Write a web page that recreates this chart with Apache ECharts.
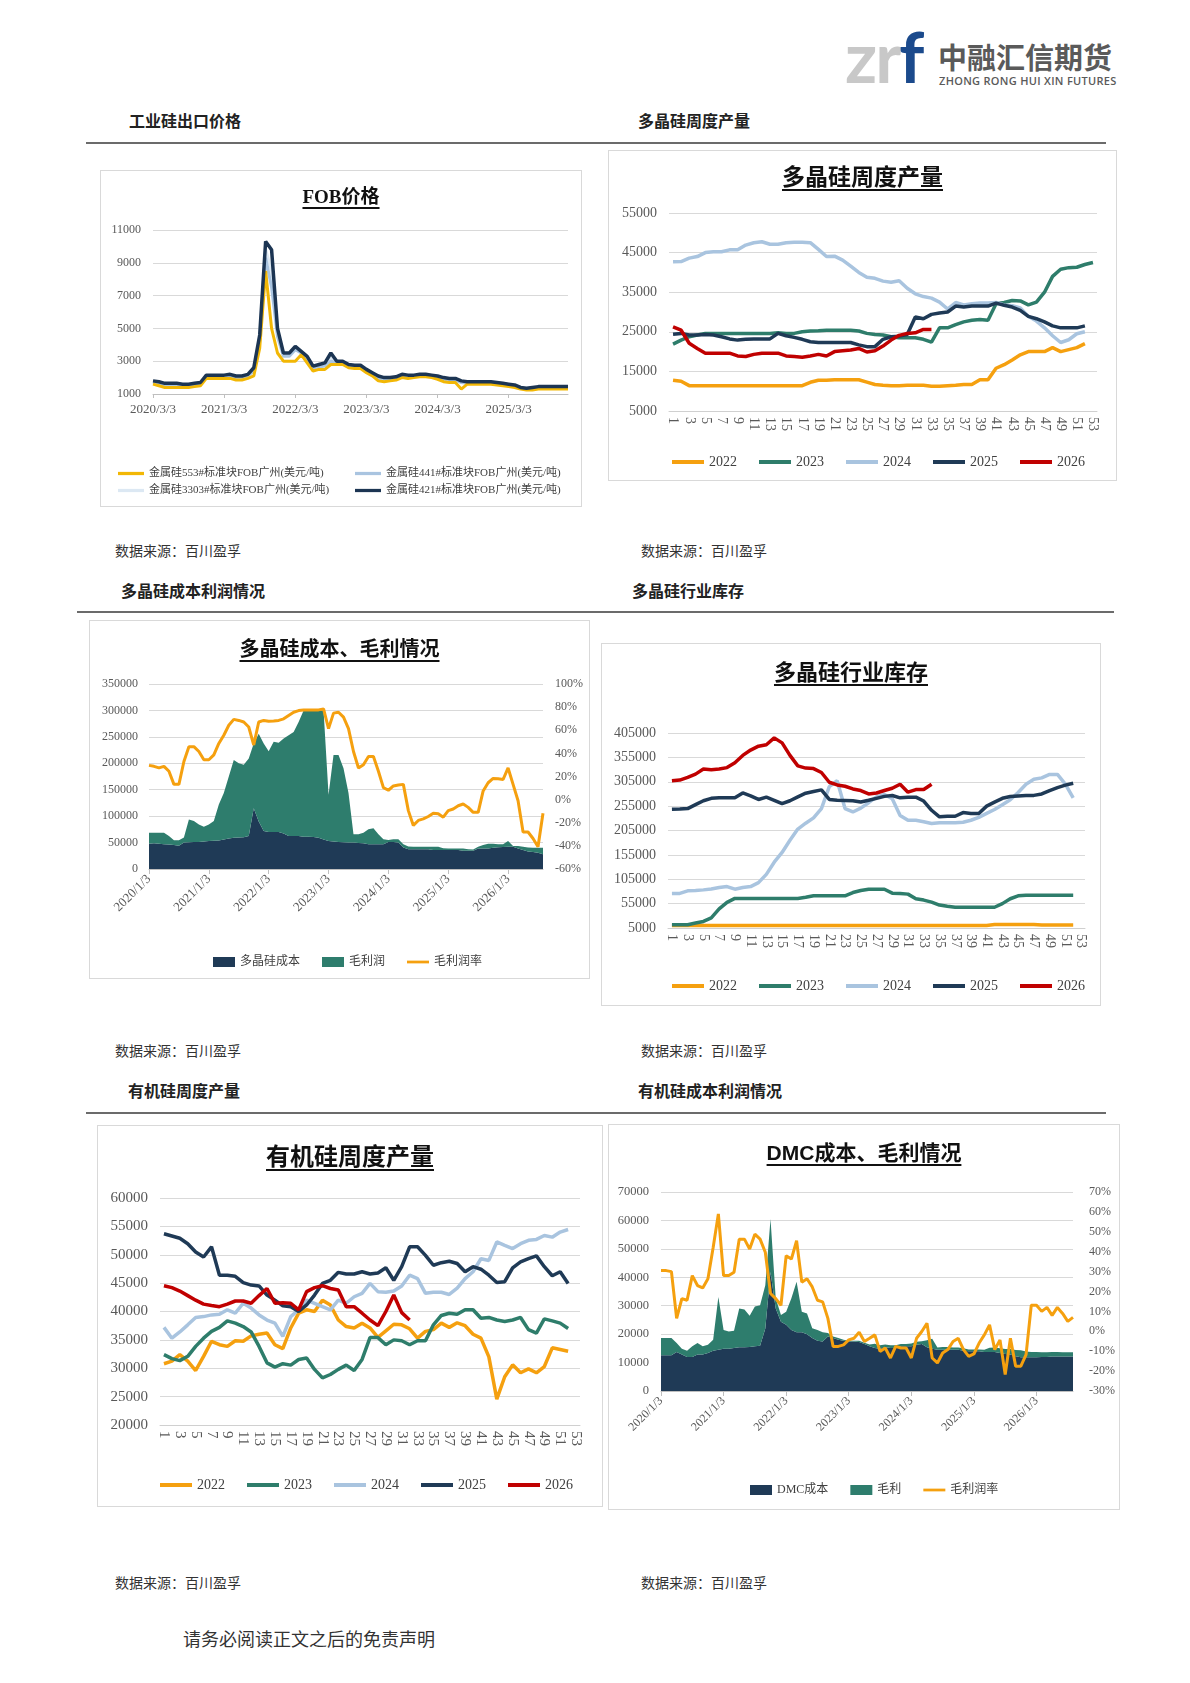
<!DOCTYPE html>
<html>
<head>
<meta charset="utf-8">
<script src="https://cdn.jsdelivr.net/npm/echarts@6/dist/echarts.min.js"></script>
<style>
body{margin:0;background:#fff;width:1190px;height:1683px;position:relative;overflow:hidden;font-family:"Noto Sans CJK SC",sans-serif}
.h{position:absolute;font-size:16px;font-weight:700;color:#222;line-height:20px;white-space:nowrap}
.src{position:absolute;font-size:14px;color:#333;line-height:18px;white-space:nowrap}
.rule{position:absolute;height:2px;background:#6b6b6b}
.box{position:absolute;border:1px solid #d9d9d9;box-sizing:border-box;background:#fff}
.box .c{position:absolute;left:0;top:0;right:0;bottom:0}
.ttl{position:absolute;left:0;right:0;text-align:center;font-weight:700;color:#111;text-decoration:underline;text-underline-offset:4px;text-decoration-thickness:1.5px;z-index:5;white-space:nowrap;font-family:"Liberation Serif","Noto Sans CJK SC",serif}
</style>
</head>
<body>
<!-- logo -->
<div style="position:absolute;left:845px;top:21px;font:700 70px Lato;line-height:70px;letter-spacing:-2px"><span style="color:#c8c8c8">zr</span><span style="color:#1b4a8c">f</span></div>
<div style="position:absolute;left:938px;top:39px;font:700 29px 'Noto Sans CJK SC';line-height:34px;color:#5a5a5a">中融汇信期货</div>
<div style="position:absolute;left:939px;top:75px;font:600 11px 'Open Sans';line-height:12px;letter-spacing:0.3px;color:#5a5a5a">ZHONG RONG HUI XIN FUTURES</div>

<div class="h" style="left:129px;top:110px">工业硅出口价格</div>
<div class="h" style="left:638px;top:110px">多晶硅周度产量</div>
<div class="rule" style="left:86px;top:142px;width:1020px"></div>

<div class="box" style="left:100px;top:170px;width:482px;height:337px">
  <div class="ttl" style="top:14px;font-size:19px;line-height:23px">FOB价格</div>
  <div class="c" id="c1"></div>
</div>
<div class="box" style="left:608px;top:150px;width:509px;height:331px">
  <div class="ttl" style="top:13px;font-size:23px;line-height:28px">多晶硅周度产量</div>
  <div class="c" id="c2"></div>
</div>

<div class="src" style="left:115px;top:541px">数据来源：百川盈孚</div>
<div class="src" style="left:641px;top:541px">数据来源：百川盈孚</div>

<div class="h" style="left:121px;top:580px">多晶硅成本利润情况</div>
<div class="h" style="left:632px;top:580px">多晶硅行业库存</div>
<div class="rule" style="left:77px;top:611px;width:1037px"></div>

<div class="box" style="left:89px;top:620px;width:501px;height:359px">
  <div class="ttl" style="top:16px;font-size:20px;line-height:24px">多晶硅成本、毛利情况</div>
  <div class="c" id="c3"></div>
</div>
<div class="box" style="left:601px;top:643px;width:500px;height:363px">
  <div class="ttl" style="top:16px;font-size:22px;line-height:26px">多晶硅行业库存</div>
  <div class="c" id="c4"></div>
</div>

<div class="src" style="left:115px;top:1041px">数据来源：百川盈孚</div>
<div class="src" style="left:641px;top:1041px">数据来源：百川盈孚</div>

<div class="h" style="left:128px;top:1080px">有机硅周度产量</div>
<div class="h" style="left:638px;top:1080px">有机硅成本利润情况</div>
<div class="rule" style="left:86px;top:1112px;width:1020px"></div>

<div class="box" style="left:97px;top:1125px;width:506px;height:382px">
  <div class="ttl" style="top:17px;font-size:24px;line-height:29px">有机硅周度产量</div>
  <div class="c" id="c5"></div>
</div>
<div class="box" style="left:608px;top:1124px;width:512px;height:386px">
  <div class="ttl" style="top:15px;font-size:21px;line-height:25px;font-family:'Liberation Sans','Noto Sans CJK SC',sans-serif">DMC成本、毛利情况</div>
  <div class="c" id="c6"></div>
</div>

<div class="src" style="left:115px;top:1573px">数据来源：百川盈孚</div>
<div class="src" style="left:641px;top:1573px">数据来源：百川盈孚</div>

<div style="position:absolute;left:183px;top:1626px;font-size:18px;line-height:24px;color:#333">请务必阅读正文之后的免责声明</div>

<script>
// ---------- data ----------
// FOB prices, monthly from 2020/3/3
const fob553 = [1600,1500,1400,1400,1400,1400,1400,1450,1500,1950,1950,1950,1950,1950,1850,1850,1950,2100,3800,8500,5000,3500,3000,3000,3000,3400,2900,2400,2500,2500,2800,2800,2800,2600,2550,2550,2300,2100,1800,1750,1800,1850,2000,1950,2000,2050,2050,2000,1900,1750,1700,1700,1300,1600,1600,1600,1600,1600,1550,1500,1450,1400,1300,1250,1250,1300,1300,1300,1300,1300,1300];
const fob441 = [1700,1650,1550,1550,1550,1500,1500,1550,1600,2050,2050,2050,2050,2100,2000,2000,2100,2400,4300,9300,7500,4500,3300,3300,3700,3500,3100,2600,2650,2700,3000,2900,2900,2700,2650,2650,2400,2200,1950,1900,1900,1950,2100,2050,2050,2100,2100,2050,2000,1900,1850,1850,1700,1650,1650,1650,1650,1650,1600,1550,1500,1450,1350,1300,1350,1400,1400,1400,1400,1400,1400];
const fob3303 = [1750,1700,1600,1600,1600,1550,1550,1600,1650,2100,2100,2100,2100,2150,2050,2050,2150,2500,4500,9800,8500,4800,3400,3400,3800,3550,3200,2650,2750,2800,3200,2950,2950,2750,2700,2700,2450,2250,2050,1950,1950,2000,2150,2100,2100,2150,2150,2100,2050,1950,1900,1900,1750,1700,1700,1700,1700,1700,1650,1600,1550,1500,1350,1300,1350,1400,1400,1400,1400,1400,1400];
const fob421 = [1800,1750,1650,1650,1650,1600,1600,1650,1700,2150,2150,2150,2150,2200,2100,2100,2200,2600,4600,10300,9800,5000,3500,3500,3900,3600,3300,2700,2800,2900,3500,3000,3000,2800,2750,2750,2500,2300,2100,2000,2000,2050,2200,2150,2150,2200,2200,2150,2100,2000,1950,1950,1800,1750,1750,1750,1750,1750,1700,1650,1600,1550,1400,1350,1400,1450,1450,1450,1450,1450,1450];

// polysilicon weekly output
const p2022 = [12750,12500,11400,11400,11400,11400,11400,11400,11400,11400,11400,11400,11400,11400,11400,11400,11400,12250,12750,12750,12900,12900,12900,12900,12300,11700,11500,11400,11400,11500,11500,11500,11250,11250,11400,11500,11700,11700,12900,12900,15800,16700,17900,19200,20000,20000,20000,21000,20000,20500,21000,22000];
const p2023 = [21900,22900,23750,24200,24600,24600,24600,24600,24600,24600,24600,24600,24600,24750,24600,24600,25000,25200,25250,25400,25400,25400,25400,25200,24600,24300,24200,23750,23500,23500,23500,23100,22400,26000,26000,26800,27500,27900,28100,27900,32100,32400,32900,32800,31800,32500,35000,39000,40800,41200,41300,42000,42500];
const p2024 = [42700,42750,43600,44000,45000,45200,45200,45700,45700,46900,47500,47750,47100,47100,47500,47600,47600,47500,45800,44000,44100,43100,41600,40000,38800,38500,37800,37500,37900,36000,34600,33900,33500,32500,30750,32400,31800,32100,32250,32250,32400,31800,31600,31000,28900,27700,26000,24000,22300,23000,24500,25000];
const p2025 = [24400,24600,24200,24200,24300,24200,23750,23200,22900,23100,23200,23200,23200,24600,24000,23600,23100,22500,22300,22300,22300,22300,22300,21700,21250,21250,23100,23750,23900,24300,28750,28300,29400,29750,30000,31500,31250,31500,31500,31500,32250,31700,31250,30400,28900,28300,27500,26500,26000,26000,26000,26500];
const p2026 = [26250,25400,22100,20800,19600,19600,19600,19600,18900,18750,19300,19600,19600,19600,18900,18750,18600,18900,19300,18900,20000,20200,20400,20800,19900,20200,21400,22900,24100,24600,24750,25600,25600];

// polysilicon cost / gross profit / margin, monthly from 2020/1/3
const polyCost = [48000,48500,48000,47000,46500,45600,44000,50000,50500,51000,51000,52000,53000,53500,54000,56000,57500,59000,59500,60000,62500,115000,90000,72000,70000,70000,70000,67000,62500,62500,62500,61000,61000,60600,59000,56000,53000,52000,51000,50500,50000,50000,49000,48500,47000,47000,47000,47000,51000,51000,50000,40600,37500,37500,37500,37500,37500,36000,36000,36000,36000,36000,36000,34400,34400,34400,39000,39000,39000,40000,41000,41500,42000,42000,39000,36000,33000,32000,30600,28000];
const polyProfit = [20750,20250,20750,21750,16000,8800,10400,9400,43250,39600,33400,28000,31400,37100,68000,87750,117500,147000,140500,137000,146500,122500,166000,165500,153000,170600,169000,180000,190500,196500,215500,239000,239000,239400,241000,244000,87600,163600,164600,140100,93750,15600,16600,20250,28000,30000,18600,9250,4000,5250,6250,6400,5000,4500,4500,4500,4500,6000,6000,3400,2750,2750,2750,4350,3100,2600,3000,6600,9000,8000,6000,5500,11000,1750,4750,6000,7600,8000,9400,12000];
const polyMargin = [29.6,28.8,27.4,28.8,24.5,13.2,13.2,33,45.8,45.8,41.6,34.5,34.5,38.7,48.6,55.7,64.3,69.4,68.5,67.1,62.8,47.2,67.1,68.5,67.7,68,68.5,69.9,72.8,75.6,77,77.6,77.6,77.6,77.6,78.4,61.4,74.8,75.6,71.3,61.4,41.6,27.4,30.2,37.3,37.3,24.5,10.4,8.1,11.8,12.6,13.2,-9.5,-22.3,-18,-16.6,-14.6,-11.8,-12.3,-15.2,-9.5,-8.1,-5.3,-3.8,-6.7,-11,-11,7.5,14.6,18.3,18,17.4,27.4,13.2,-1,-28,-28,-33.6,-40.7,-11.8];

// polysilicon inventory, weekly
const i2022 = [10000,10000,10000,10000,10000,10000,10000,10000,10000,10000,10000,10000,10000,10000,10000,10000,10000,10000,10000,10000,10000,10000,10000,10000,10000,10000,10000,10000,10000,10000,10000,10000,10000,10000,10000,10000,10000,10000,10000,10000,10000,12000,12000,12000,12000,12000,12000,11000,11000,11000,11000,11000];
const i2023 = [11700,11700,11700,15100,18500,25900,44100,57600,65700,65700,65700,65700,65700,65700,65700,65700,65700,68000,71100,71100,71100,71100,71100,77800,82000,84600,84600,84600,76500,76000,74500,65000,62300,58000,52000,49500,47500,47500,47500,47500,47500,47500,55000,65000,71000,72400,72400,72400,72400,72400,72400,72400];
const i2024 = [75800,76000,81200,82000,83200,85000,88000,90000,84600,88000,90000,98000,115000,140000,160000,185000,208000,220000,231000,250000,295000,307000,250000,243000,251000,262000,274000,279000,270000,236000,226000,226000,223000,219500,221000,221000,221000,222000,226000,232000,240000,248000,258000,268000,283000,300000,310000,313000,320000,320000,300000,272000];
const i2025 = [248500,249000,250000,258000,266000,271000,272000,272000,272000,282000,276000,268700,273400,267000,260000,266000,274000,281500,285000,288300,268700,267000,266700,266000,263300,267000,271000,275000,276800,272000,273000,273400,265400,246500,233000,234000,234300,241700,240000,239700,255000,263300,271000,274800,276000,277000,277000,280000,287000,293000,298000,302000];
const i2026 = [307000,308500,314000,320600,331000,329500,331000,334000,344000,359000,370000,378000,381000,395000,384700,359000,337500,333000,332000,324000,304000,298400,295700,290300,287000,280000,282000,287000,291700,300000,283600,289000,289000,300000];

// organic silicon weekly output
const o2022 = [30800,31250,32400,31250,29600,32100,34750,34150,33850,34850,34750,35700,36000,36200,34150,33450,37100,39700,40300,40000,42000,41150,38500,37350,37100,37950,37100,35450,36600,37750,37650,36950,35300,36500,36800,37950,37200,38000,37500,36000,35300,32000,24550,28500,30600,29200,29900,29200,30300,33600,33300,33000];
const o2023 = [32400,31700,31350,32100,33850,35300,36500,37200,38350,37950,37350,36400,33850,30950,30200,30800,30550,31550,31800,29800,28300,28900,29800,30550,29600,31550,35400,35400,34150,35000,34850,34150,34850,34850,37650,39300,39700,39500,40300,40300,38800,38950,38500,38250,38500,38950,36800,36200,38700,38350,37950,37000];
const o2024 = [37200,35300,36400,37650,38950,39100,39400,39500,40300,39700,41450,40600,39400,38500,37950,35600,39100,40300,42000,41450,40850,40300,42000,41450,42600,43200,44950,43500,43400,43600,44500,46400,45800,43200,43400,43400,43000,44100,45800,47000,49300,49000,52250,51650,51100,51950,52550,52700,53400,53100,54000,54450];
const o2025 = [53700,53300,52900,51950,50500,49600,51400,46400,46400,46200,45100,44650,44500,42900,42000,41000,40850,40000,41150,42900,44950,45500,46900,46600,46600,47000,46600,46800,47700,45500,47900,51400,51400,49900,48150,48600,48850,48450,47000,47900,47450,46400,45100,45250,47700,48750,49300,49800,47900,46300,47000,44950];
const o2026 = [44550,44200,43600,42800,42000,41300,41050,40850,41300,41850,41850,41450,42800,44050,41450,41550,41450,40300,43500,44200,44550,44050,43800,40850,40850,39700,38500,37500,40000,42900,39800,38500];

// DMC cost / gross profit / margin, monthly from 2020/1/3
const dmcCost = [12560,12560,12560,13700,12800,12000,12000,12800,12800,13400,14200,14500,14900,14900,15100,15350,15350,15500,15700,15900,22000,41900,29000,24400,23300,21500,20700,20700,20000,18600,17700,17450,19200,18600,18000,17700,17450,17450,17200,16500,15700,15100,14900,15350,15100,15100,15700,15700,15700,16300,16500,15350,14900,14500,14500,14500,14500,14500,14200,14000,14000,14000,13700,13700,13700,13400,13000,12800,12200,11900,11900,11900,11900,12000,12000,12100,12100,12100,12100,12100];
const dmcProfit = [6040,6040,6040,3200,2100,2200,3700,4100,2900,2900,3800,18600,6600,6000,6100,13650,13350,11000,14000,14300,15200,18600,3600,2300,4600,11100,17700,7200,7300,3500,3800,3250,1200,600,600,300,250,250,500,500,700,1500,1200,1000,1000,1000,800,800,1000,1000,1000,2500,3500,800,1000,1000,800,800,800,600,600,600,800,1500,1600,1600,1800,2000,2200,2400,2000,1800,1800,1600,1600,1600,1600,1500,1500,1500];
const dmcMargin = [30.5,30.5,30,6.5,16.4,15.6,28,23,21.8,26.4,42.1,59,28,28,29.7,46.3,46.3,41.3,48.8,46.3,39.7,19,16.4,13.1,38,36.3,45.5,24.7,26.4,22.3,15.6,14.8,6.5,-7.6,-7.6,-6.8,-4.3,-3.5,-0.5,-5.1,-3.5,-1.8,-10.1,-8.4,-13.4,-7.6,-8.4,-8.4,-13.4,-3.5,-0.1,4,-13.4,-15.9,-10.9,-9.2,-5.1,-3.5,-9.2,-12.6,-11.4,-5.9,-1.8,3.2,-9.2,-4.3,-21.7,-3.5,-17.5,-17.5,-11.7,13.1,13.1,10,12,8,12,9,5,7];

// categories
function months(y, m, day, n) {
  const out = []
  for (let i = 0; i < n; i++) {
    const yy = y + Math.floor((m - 1 + i) / 12)
    const mm = ((m - 1 + i) % 12) + 1
    out.push(yy + '/' + mm + '/' + day)
  }
  return out
}
const fobDates = months(2020, 3, 3, fob421.length)
const polyDates = months(2020, 1, 3, polyCost.length)
const dmcDates = months(2020, 1, 3, dmcCost.length)
const weeks = Array.from({ length: 53 }, (_, i) => String(i + 1))

// ---------- styles ----------
const serif = '"Liberation Serif","Noto Sans CJK SC",serif'
const gray = '#595959'
const navy = '#1f3a56', teal = '#2e7d6d', orange = '#f5a00f'
const yearColors = { '2022': '#f5a00f', '2023': '#2e7d6b', '2024': '#a9c4df', '2025': '#1f3a56', '2026': '#c00000' }
const split = { lineStyle: { color: '#d9d9d9' } }
const plain = v => String(v)          // no thousands separators
const pct = v => v + '%'
const lineIcon = 'path://M0,0H32V4H0Z'   // flat bar, keeps aspect inside legend box

function weeklyChart(id, grid, yMin, yMax, step, series, legend, fs) {
  const chart = echarts.init(document.getElementById(id))
  chart.setOption({
    animation: false,
    grid: grid,
    legend: Object.assign({
      itemWidth: 32, itemHeight: 10, itemGap: 22,
      textStyle: { fontFamily: serif, fontSize: 14, color: '#404040' },
      data: Object.keys(series).map(k => ({ name: k, icon: lineIcon }))
    }, legend),
    xAxis: {
      type: 'category', data: weeks, boundaryGap: true,
      axisLine: { lineStyle: { color: '#d0d0d0' } }, axisTick: { show: false },
      axisLabel: { color: gray, fontFamily: serif, fontSize: fs, rotate: -90, interval: 1, margin: 6 }
    },
    yAxis: {
      type: 'value', min: yMin, max: yMax, interval: step,
      axisLabel: { color: gray, fontFamily: serif, fontSize: fs, margin: 12, formatter: plain }, splitLine: split
    },
    series: Object.keys(series).map(k => ({
      name: k, type: 'line', data: series[k], symbol: 'none',
      lineStyle: { width: 3.5, color: yearColors[k] }, itemStyle: { color: yearColors[k] }
    }))
  })
}

// ---------- chart 1: FOB ----------
const c1 = echarts.init(document.getElementById('c1'))
const fobNames = ['金属硅553#标准块FOB广州(美元/吨)', '金属硅441#标准块FOB广州(美元/吨)', '金属硅3303#标准块FOB广州(美元/吨)', '金属硅421#标准块FOB广州(美元/吨)']
const legText = { fontFamily: serif, fontSize: 11, color: '#404040' }
c1.setOption({
  animation: false,
  grid: { left: 52, right: 13, top: 59, bottom: 112 },
  legend: [
    { data: [fobNames[0], fobNames[2]].map(n => ({ name: n, icon: lineIcon })), orient: 'vertical', left: 12, top: 292, itemGap: 6, itemWidth: 26, itemHeight: 8, textStyle: legText },
    { data: [fobNames[1], fobNames[3]].map(n => ({ name: n, icon: lineIcon })), orient: 'vertical', left: 249, top: 292, itemGap: 6, itemWidth: 26, itemHeight: 8, textStyle: legText }
  ],
  xAxis: {
    type: 'category', data: fobDates, boundaryGap: false,
    axisLine: { lineStyle: { color: '#bfbfbf' } },
    axisTick: { interval: 11, length: 4, lineStyle: { color: '#bfbfbf' } },
    axisLabel: { interval: 11, color: gray, fontFamily: serif, fontSize: 13, margin: 9 }
  },
  yAxis: {
    type: 'value', min: 1000, max: 11000, interval: 2000,
    axisLabel: { color: gray, fontFamily: serif, fontSize: 12, margin: 12, formatter: plain }, splitLine: split
  },
  series: [
    { name: fobNames[2], type: 'line', data: fob3303, symbol: 'none', lineStyle: { width: 3, color: '#dce8f3' }, itemStyle: { color: '#dce8f3' } },
    { name: fobNames[1], type: 'line', data: fob441, symbol: 'none', lineStyle: { width: 3, color: '#a9c4e0' }, itemStyle: { color: '#a9c4e0' } },
    { name: fobNames[0], type: 'line', data: fob553, symbol: 'none', lineStyle: { width: 3, color: '#f2b705' }, itemStyle: { color: '#f2b705' } },
    { name: fobNames[3], type: 'line', data: fob421, symbol: 'none', lineStyle: { width: 3.5, color: '#1c3553' }, itemStyle: { color: '#1c3553' } }
  ]
})

// ---------- chart 2: polysilicon weekly output ----------
weeklyChart('c2', { left: 60, right: 19, top: 62, bottom: 69 }, 5000, 55000, 10000,
  { '2022': p2022, '2023': p2023, '2024': p2024, '2025': p2025, '2026': p2026 },
  { left: 58, top: 299 }, 14)

// ---------- chart 3: polysilicon cost & profit ----------
const c3 = echarts.init(document.getElementById('c3'))
c3.setOption({
  animation: false,
  grid: { left: 59, right: 46, top: 63, bottom: 109 },
  legend: {
    left: 118, top: 330, itemWidth: 22, itemHeight: 10, itemGap: 22,
    textStyle: { fontFamily: serif, fontSize: 12, color: '#404040' },
    data: [{ name: '多晶硅成本', icon: 'rect' }, { name: '毛利润', icon: 'rect' }, { name: '毛利润率', icon: 'path://M0,0H24V3H0Z' }]
  },
  xAxis: {
    type: 'category', data: polyDates, boundaryGap: false,
    axisLine: { lineStyle: { color: '#bfbfbf' } },
    axisTick: { interval: 11, length: 5, lineStyle: { color: '#bfbfbf' } },
    axisLabel: { interval: 11, rotate: 45, color: gray, fontFamily: serif, fontSize: 13, margin: 8 }
  },
  yAxis: [
    { type: 'value', min: 0, max: 350000, interval: 50000, axisLabel: { color: gray, fontFamily: serif, fontSize: 12, margin: 11, formatter: plain }, splitLine: split },
    { type: 'value', min: -60, max: 100, interval: 20, position: 'right', splitLine: { show: false }, axisLabel: { color: gray, fontFamily: serif, fontSize: 12, margin: 12, formatter: pct } }
  ],
  series: [
    { name: '多晶硅成本', type: 'line', stack: 'poly', data: polyCost, symbol: 'none', lineStyle: { width: 0 }, areaStyle: { color: navy, opacity: 1 }, itemStyle: { color: navy } },
    { name: '毛利润', type: 'line', stack: 'poly', data: polyProfit, symbol: 'none', lineStyle: { width: 0 }, areaStyle: { color: teal, opacity: 1 }, itemStyle: { color: teal } },
    { name: '毛利润率', type: 'line', yAxisIndex: 1, data: polyMargin, symbol: 'none', lineStyle: { width: 3, color: orange }, itemStyle: { color: orange }, z: 5 }
  ]
})

// ---------- chart 4: polysilicon inventory ----------
weeklyChart('c4', { left: 66, right: 15, top: 89, bottom: 77 }, 5000, 405000, 50000,
  { '2022': i2022, '2023': i2023, '2024': i2024, '2025': i2025, '2026': i2026 },
  { left: 65, top: 330 }, 14)

// ---------- chart 5: organic silicon weekly output ----------
weeklyChart('c5', { left: 62, right: 22, top: 72, bottom: 81 }, 20000, 60000, 5000,
  { '2022': o2022, '2023': o2023, '2024': o2024, '2025': o2025, '2026': o2026 },
  { left: 57, top: 347 }, 15)

// ---------- chart 6: DMC cost & profit ----------
const c6 = echarts.init(document.getElementById('c6'))
c6.setOption({
  animation: false,
  grid: { left: 52, right: 46, top: 67, bottom: 118 },
  legend: {
    left: 136, top: 354, itemWidth: 22, itemHeight: 10, itemGap: 22,
    textStyle: { fontFamily: serif, fontSize: 12, color: '#404040' },
    data: [{ name: 'DMC成本', icon: 'rect' }, { name: '毛利', icon: 'rect' }, { name: '毛利润率', icon: 'path://M0,0H24V3H0Z' }]
  },
  xAxis: {
    type: 'category', data: dmcDates, boundaryGap: false,
    axisLine: { lineStyle: { color: '#bfbfbf' } },
    axisTick: { interval: 11, length: 5, lineStyle: { color: '#bfbfbf' } },
    axisLabel: { interval: 11, rotate: 45, color: gray, fontFamily: serif, fontSize: 12, margin: 8 }
  },
  yAxis: [
    { type: 'value', min: 0, max: 70000, interval: 10000, axisLabel: { color: gray, fontFamily: serif, fontSize: 12.5, margin: 12, formatter: plain }, splitLine: split },
    { type: 'value', min: -30, max: 70, interval: 10, position: 'right', splitLine: { show: false }, axisLabel: { color: gray, fontFamily: serif, fontSize: 12, margin: 16, formatter: pct } }
  ],
  series: [
    { name: 'DMC成本', type: 'line', stack: 'dmc', data: dmcCost, symbol: 'none', lineStyle: { width: 0 }, areaStyle: { color: navy, opacity: 1 }, itemStyle: { color: navy } },
    { name: '毛利', type: 'line', stack: 'dmc', data: dmcProfit, symbol: 'none', lineStyle: { width: 0 }, areaStyle: { color: teal, opacity: 1 }, itemStyle: { color: teal } },
    { name: '毛利润率', type: 'line', yAxisIndex: 1, data: dmcMargin, symbol: 'none', lineStyle: { width: 3, color: orange }, itemStyle: { color: orange }, z: 5 }
  ]
})
</script>
</body>
</html>
